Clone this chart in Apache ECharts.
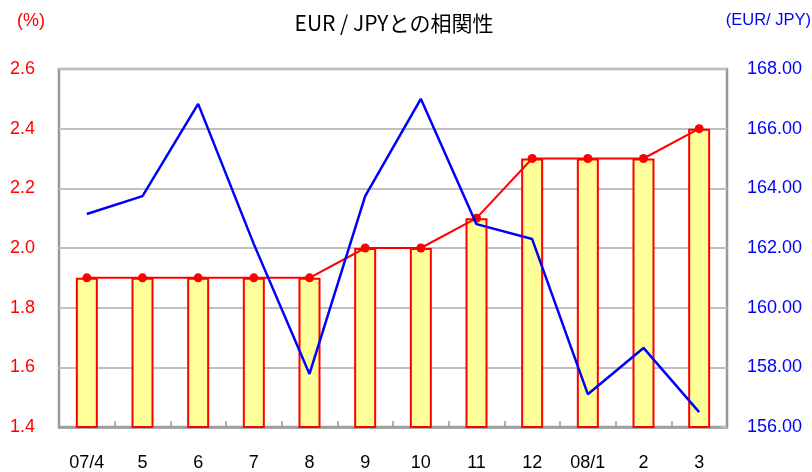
<!DOCTYPE html>
<html><head><meta charset="utf-8">
<script src="https://cdn.jsdelivr.net/npm/echarts@6/dist/echarts.min.js"></script>
<style>html,body{margin:0;padding:0;background:#fff}#c{width:812px;height:472px}</style>
</head><body><div id="c"></div>
<script>
const categories = ['07/4','5','6','7','8','9','10','11','12','08/1','2','3'];
const rateValues = [1.9,1.9,1.9,1.9,1.9,2.0,2.0,2.1,2.3,2.3,2.3,2.4];
const eurJpyValues = [163.14,163.74,166.83,162.13,157.78,163.74,167.0,162.8,162.3,157.1,158.65,156.5];
const leftTicks = {min:1.4,max:2.6,interval:0.2};
const rightTicks = {min:156,max:168,interval:2};

const chart = echarts.init(document.getElementById('c'));
const font = '"Liberation Sans", Arial, sans-serif';
chart.setOption({
  animation:false,
  backgroundColor:'#fff',
  title:{text:'EUR / JPYとの相関性',left:389,top:8,textAlign:'center',
    textStyle:{fontSize:21,fontWeight:'normal',color:'#000',fontFamily:'"Noto Sans CJK JP", sans-serif'}},
  graphic:[
    {type:'text',left:17,top:12,style:{text:'(%)',fill:'#ff0000',font:'18px '+font}},
    {type:'text',right:1,top:12,style:{text:'(EUR/ JPY)',fill:'#0000ff',font:'16.5px '+font}}
  ],
  grid:{left:59,right:85,top:69,bottom:45,show:true,borderColor:'#999',borderWidth:2.5},
  xAxis:{type:'category',data:categories,
    axisLine:{show:true,lineStyle:{color:'#999',width:2.5}},
    axisTick:{show:true,inside:true,length:6,lineStyle:{color:'#999',width:1.5}},
    axisLabel:{color:'#000',fontSize:18,fontFamily:font,margin:27}},
  yAxis:[
    {type:'value',min:leftTicks.min,max:leftTicks.max,interval:leftTicks.interval,
      axisLine:{show:false},axisTick:{show:false},
      splitLine:{lineStyle:{color:'#c0c0c0',width:2}},
      axisLabel:{color:'#ff0000',fontSize:18,fontFamily:font,margin:24,formatter:v=>v.toFixed(1)}},
    {type:'value',min:rightTicks.min,max:rightTicks.max,interval:rightTicks.interval,position:'right',
      axisLine:{show:false},axisTick:{show:true,inside:true,length:6,lineStyle:{color:'#c0c0c0',width:2}},
      splitLine:{show:false},
      axisLabel:{color:'#0000ff',fontSize:18,fontFamily:font,margin:20,formatter:v=>v.toFixed(2)}}
  ],
  series:[
    {type:'bar',data:rateValues,yAxisIndex:0,barWidth:22,
      itemStyle:{color:'#ffff99',borderColor:'#ff0000',borderWidth:2}},
    {type:'line',data:rateValues,yAxisIndex:0,symbol:'circle',symbolSize:9,
      lineStyle:{color:'#ff0000',width:2},itemStyle:{color:'#ff0000'},z:5},
    {type:'line',data:eurJpyValues,yAxisIndex:1,symbol:'none',
      lineStyle:{color:'#0000ff',width:2.5},z:6}
  ]
});
</script></body></html>
